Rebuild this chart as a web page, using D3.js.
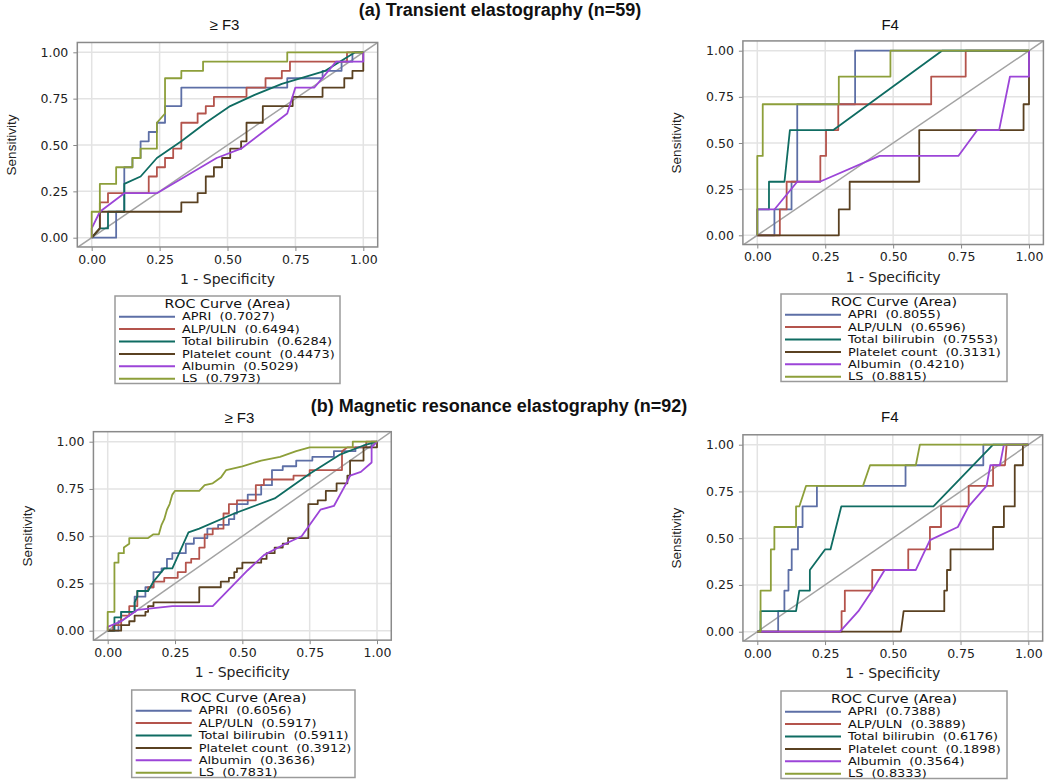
<!DOCTYPE html>
<html><head><meta charset="utf-8">
<script src="https://cdn.jsdelivr.net/npm/d3@7"></script>
<style>
html,body{margin:0;padding:0;background:#fff;}
svg text{white-space:pre;}
</style>
</head><body>
<svg id="chart" width="1050" height="781"></svg>
<script>
// ---------------- DATA ----------------
const markers = ["APRI", "ALP/ULN", "Total bilirubin", "Platelet count", "Albumin", "LS"];
const tickValues = [0, 0.25, 0.5, 0.75, 1];
const tickLabels = ["0.00", "0.25", "0.50", "0.75", "1.00"];
const sectionTitles = ["(a) Transient elastography (n=59)", "(b) Magnetic resonance elastography (n=92)"];
const panelTitles = ["\u2265 F3", "F4", "\u2265 F3", "F4"];

const areasTE_F3  = [0.7027, 0.6494, 0.6284, 0.4473, 0.5029, 0.7973];
const areasTE_F4  = [0.8055, 0.6596, 0.7553, 0.3131, 0.4210, 0.8815];
const areasMRE_F3 = [0.6056, 0.5917, 0.5911, 0.3912, 0.3636, 0.7831];
const areasMRE_F4 = [0.7388, 0.3889, 0.6176, 0.1898, 0.3564, 0.8333];

// (a) TE, >= F3  — points are [1 - specificity, sensitivity]
const teF3_APRI = [[0,0],[0.09,0],[0.09,0.14],[0.12,0.14],[0.12,0.38],[0.15,0.38],[0.15,0.43],[0.18,0.43],[0.18,0.52],[0.21,0.52],[0.21,0.57],[0.24,0.57],[0.24,0.62],[0.27,0.62],[0.27,0.71],[0.33,0.71],[0.33,0.81],[0.72,0.81],[0.72,0.86],[0.85,0.86],[0.85,0.90],[0.92,0.90],[0.92,0.95],[0.96,0.95],[0.96,1],[1,1]];
const teF3_ALP = [[0,0],[0.03,0.05],[0.03,0.19],[0.06,0.19],[0.06,0.24],[0.21,0.24],[0.21,0.33],[0.24,0.33],[0.24,0.38],[0.27,0.38],[0.27,0.43],[0.30,0.43],[0.30,0.48],[0.33,0.48],[0.33,0.62],[0.39,0.62],[0.39,0.67],[0.42,0.67],[0.42,0.71],[0.45,0.71],[0.45,0.76],[0.57,0.76],[0.57,0.81],[0.64,0.81],[0.64,0.86],[0.70,0.86],[0.70,0.90],[0.73,0.90],[0.73,0.95],[0.94,0.95],[0.94,1],[1,1]];
const teF3_TB = [[0,0],[0.03,0.05],[0.06,0.05],[0.06,0.14],[0.12,0.14],[0.12,0.29],[0.18,0.33],[0.24,0.43],[0.33,0.52],[0.42,0.62],[0.51,0.71],[0.60,0.77],[0.70,0.83],[0.86,0.90],[0.97,1],[1,1]];
const teF3_PLT = [[0,0],[0.03,0.05],[0.03,0.14],[0.33,0.14],[0.33,0.19],[0.39,0.19],[0.39,0.24],[0.42,0.24],[0.42,0.33],[0.45,0.33],[0.45,0.38],[0.48,0.38],[0.48,0.43],[0.51,0.43],[0.51,0.48],[0.55,0.48],[0.55,0.52],[0.57,0.52],[0.57,0.62],[0.63,0.62],[0.63,0.71],[0.74,0.71],[0.74,0.76],[0.85,0.76],[0.85,0.81],[0.93,0.81],[0.93,0.86],[0.96,0.86],[0.96,0.90],[1,0.90],[1,1]];
const teF3_ALB = [[0,0],[0,0.05],[0.03,0.14],[0.12,0.24],[0.24,0.24],[0.46,0.43],[0.55,0.48],[0.72,0.67],[0.75,0.81],[0.82,0.81],[0.90,0.95],[1,0.95],[1,1]];
const teF3_LS = [[0,0],[0,0.14],[0.03,0.14],[0.03,0.29],[0.09,0.29],[0.09,0.38],[0.15,0.38],[0.15,0.43],[0.18,0.43],[0.18,0.48],[0.24,0.48],[0.24,0.62],[0.27,0.67],[0.27,0.86],[0.33,0.86],[0.33,0.90],[0.41,0.90],[0.41,0.95],[0.72,0.95],[0.72,1],[1,1]];

// (a) TE, F4
const teF4_APRI = [[0,0],[0.063,0],[0.063,0.14],[0.126,0.14],[0.126,0.29],[0.147,0.29],[0.147,0.71],[0.36,0.71],[0.36,1],[1,1]];
const teF4_ALP = [[0,0],[0.083,0],[0.083,0.14],[0.108,0.14],[0.108,0.29],[0.232,0.29],[0.232,0.43],[0.253,0.43],[0.253,0.57],[0.298,0.57],[0.298,0.71],[0.64,0.71],[0.64,0.86],[0.767,0.86],[0.767,1],[1,1]];
const teF4_TB = [[0,0],[0,0.14],[0.043,0.14],[0.043,0.29],[0.10,0.29],[0.12,0.57],[0.28,0.57],[0.55,0.86],[0.68,1],[1,1]];
const teF4_PLT = [[0,0],[0.30,0],[0.30,0.14],[0.34,0.14],[0.34,0.29],[0.596,0.29],[0.596,0.57],[0.98,0.57],[0.98,0.71],[1,0.71],[1,0.86],[1,1]];
const teF4_ALB = [[0,0],[0,0.14],[0.063,0.14],[0.147,0.29],[0.23,0.29],[0.45,0.43],[0.74,0.43],[0.81,0.57],[0.89,0.57],[0.93,0.86],[1,0.86],[1,1]];
const teF4_LS = [[0,0],[0,0.43],[0.02,0.43],[0.02,0.71],[0.30,0.71],[0.30,0.86],[0.49,0.86],[0.49,1],[1,1]];

// (b) MRE, >= F3
const mreF3_APRI = [[0,0],[0.04,0],[0.04,0.05],[0.05,0.05],[0.05,0.10],[0.10,0.10],[0.10,0.18],[0.14,0.18],[0.14,0.23],[0.17,0.23],[0.17,0.31],[0.20,0.31],[0.20,0.33],[0.22,0.33],[0.22,0.38],[0.24,0.38],[0.24,0.41],[0.29,0.41],[0.29,0.46],[0.32,0.46],[0.32,0.49],[0.37,0.49],[0.37,0.54],[0.41,0.54],[0.41,0.56],[0.45,0.56],[0.45,0.59],[0.47,0.59],[0.47,0.62],[0.48,0.62],[0.48,0.67],[0.52,0.67],[0.52,0.72],[0.57,0.72],[0.57,0.77],[0.61,0.77],[0.61,0.85],[0.65,0.85],[0.65,0.87],[0.70,0.87],[0.70,0.90],[0.76,0.90],[0.76,0.92],[0.84,0.92],[0.84,0.95],[0.92,0.95],[0.92,0.97],[0.98,0.97],[0.98,1],[1,1]];
const mreF3_ALP = [[0,0],[0.02,0],[0.02,0.03],[0.05,0.03],[0.05,0.08],[0.08,0.08],[0.08,0.13],[0.11,0.13],[0.11,0.21],[0.15,0.21],[0.15,0.23],[0.17,0.23],[0.17,0.26],[0.21,0.26],[0.21,0.28],[0.26,0.28],[0.26,0.31],[0.29,0.31],[0.29,0.36],[0.31,0.36],[0.31,0.38],[0.34,0.38],[0.34,0.44],[0.36,0.44],[0.36,0.51],[0.39,0.51],[0.39,0.54],[0.43,0.54],[0.43,0.62],[0.45,0.62],[0.45,0.67],[0.48,0.67],[0.48,0.69],[0.55,0.69],[0.55,0.77],[0.58,0.77],[0.58,0.80],[0.69,0.80],[0.69,0.82],[0.75,0.82],[0.75,0.85],[0.87,0.85],[0.87,0.95],[0.89,0.97],[0.96,0.97],[0.96,1],[1,1]];
const mreF3_TB = [[0,0],[0.025,0],[0.025,0.07],[0.05,0.07],[0.05,0.10],[0.10,0.10],[0.10,0.15],[0.11,0.18],[0.11,0.21],[0.15,0.21],[0.17,0.26],[0.21,0.33],[0.24,0.33],[0.30,0.52],[0.34,0.54],[0.47,0.62],[0.62,0.70],[0.75,0.83],[0.86,0.93],[0.95,0.98],[1,1]];
const mreF3_PLT = [[0,0],[0.05,0],[0.05,0.03],[0.08,0.03],[0.08,0.05],[0.10,0.05],[0.10,0.08],[0.14,0.08],[0.14,0.10],[0.15,0.10],[0.15,0.13],[0.17,0.13],[0.17,0.15],[0.34,0.15],[0.34,0.23],[0.42,0.23],[0.42,0.26],[0.45,0.26],[0.45,0.28],[0.47,0.28],[0.47,0.31],[0.48,0.31],[0.48,0.33],[0.50,0.33],[0.50,0.36],[0.57,0.36],[0.57,0.38],[0.59,0.38],[0.59,0.41],[0.62,0.41],[0.62,0.44],[0.65,0.44],[0.65,0.46],[0.67,0.46],[0.67,0.49],[0.745,0.49],[0.745,0.67],[0.78,0.67],[0.78,0.69],[0.81,0.69],[0.81,0.74],[0.85,0.74],[0.85,0.78],[0.89,0.78],[0.89,0.82],[0.90,0.82],[0.90,0.90],[0.95,0.90],[0.95,0.97],[1,0.97],[1,1]];
const mreF3_ALB = [[0,0],[0,0.02],[0.05,0.05],[0.11,0.11],[0.24,0.13],[0.39,0.13],[0.52,0.32],[0.58,0.40],[0.66,0.46],[0.72,0.50],[0.79,0.64],[0.84,0.66],[0.89,0.79],[0.90,0.82],[0.94,0.84],[0.98,0.89],[0.98,0.97],[1,1]];
const mreF3_LS = [[0,0],[0,0.10],[0.025,0.10],[0.025,0.36],[0.04,0.36],[0.04,0.41],[0.06,0.41],[0.06,0.44],[0.08,0.46],[0.08,0.49],[0.15,0.49],[0.17,0.51],[0.19,0.51],[0.20,0.56],[0.21,0.59],[0.22,0.64],[0.23,0.67],[0.24,0.72],[0.25,0.74],[0.34,0.74],[0.36,0.77],[0.39,0.78],[0.42,0.81],[0.44,0.85],[0.50,0.87],[0.57,0.90],[0.64,0.92],[0.70,0.95],[0.75,0.97],[0.91,0.97],[0.91,1],[1,1]];

// (b) MRE, F4
const mreF4_APRI = [[0,0],[0.077,0],[0.077,0.11],[0.10,0.11],[0.10,0.22],[0.115,0.22],[0.115,0.33],[0.127,0.33],[0.127,0.44],[0.15,0.44],[0.15,0.56],[0.167,0.56],[0.167,0.67],[0.22,0.67],[0.22,0.78],[0.547,0.78],[0.547,0.89],[0.834,0.89],[0.834,1],[1,1]];
const mreF4_ALP = [[0,0],[0.311,0],[0.311,0.11],[0.323,0.11],[0.323,0.22],[0.424,0.22],[0.424,0.33],[0.557,0.33],[0.557,0.44],[0.637,0.44],[0.637,0.56],[0.678,0.56],[0.678,0.67],[0.78,0.67],[0.78,0.78],[0.87,0.78],[0.87,0.89],[0.914,0.89],[0.92,1],[1,1]];
const mreF4_TB = [[0,0],[0.012,0],[0.012,0.11],[0.143,0.11],[0.155,0.22],[0.194,0.22],[0.194,0.33],[0.25,0.44],[0.27,0.44],[0.31,0.67],[0.65,0.67],[0.87,1],[1,1]];
const mreF4_PLT = [[0,0],[0.53,0],[0.54,0.11],[0.69,0.11],[0.69,0.22],[0.70,0.22],[0.70,0.33],[0.713,0.33],[0.713,0.44],[0.87,0.44],[0.87,0.56],[0.91,0.56],[0.91,0.67],[0.95,0.67],[0.95,0.89],[0.98,0.89],[0.98,1],[1,1]];
const mreF4_ALB = [[0,0],[0.305,0],[0.373,0.11],[0.424,0.22],[0.47,0.33],[0.585,0.33],[0.637,0.49],[0.74,0.56],[0.78,0.67],[0.846,0.78],[0.86,0.89],[0.895,0.89],[0.91,1],[1,1]];
const mreF4_LS = [[0,0],[0.012,0],[0.012,0.22],[0.05,0.22],[0.05,0.44],[0.063,0.44],[0.063,0.56],[0.143,0.56],[0.143,0.67],[0.155,0.67],[0.18,0.78],[0.39,0.78],[0.416,0.89],[0.585,0.89],[0.60,1],[1,1]];

// ---------------- STYLE / LAYOUT ----------------
const colors = ["#5d6fa6", "#b4544c", "#0f6c62", "#5a4121", "#9c45d8", "#8d9f3a"];

const panels = [
  {title: panelTitles[0], curves: [teF3_APRI, teF3_ALP, teF3_TB, teF3_PLT, teF3_ALB, teF3_LS], areas: areasTE_F3,
   x0: 91.7, x1: 363.3, y0: 237.7, y1: 52.3, titleY: 30, legend: {left: 115, right: 340, top: 296}},
  {title: panelTitles[1], curves: [teF4_APRI, teF4_ALP, teF4_TB, teF4_PLT, teF4_ALB, teF4_LS], areas: areasTE_F4,
   x0: 757.3, x1: 1029, y0: 235.3, y1: 50.7, titleY: 30, legend: {left: 781, right: 1007, top: 294}},
  {title: panelTitles[2], curves: [mreF3_APRI, mreF3_ALP, mreF3_TB, mreF3_PLT, mreF3_ALB, mreF3_LS], areas: areasMRE_F3,
   x0: 107.7, x1: 377, y0: 630.7, y1: 441.7, titleY: 422.5, legend: {left: 131.7, right: 355, top: 690}},
  {title: panelTitles[3], curves: [mreF4_APRI, mreF4_ALP, mreF4_TB, mreF4_PLT, mreF4_ALB, mreF4_LS], areas: areasMRE_F4,
   x0: 757.3, x1: 1028.3, y0: 631.7, y1: 444.7, titleY: 422, legend: {left: 781, right: 1007, top: 691}}
];

const svg = d3.select("#chart");
const HFONT = "'DejaVu Sans', Verdana, sans-serif";
const AFONT = "'Liberation Sans', Arial, sans-serif";
const STRETCH = 1.23;

// Section titles
svg.append("text").attr("x", 500).attr("y", 16).attr("text-anchor", "middle")
  .style("font-family", AFONT).style("font-weight", "bold").style("font-size", "18px").attr("fill", "#111")
  .text(sectionTitles[0]);
svg.append("text").attr("x", 499).attr("y", 412).attr("text-anchor", "middle")
  .style("font-family", AFONT).style("font-weight", "bold").style("font-size", "18px").attr("fill", "#111")
  .text(sectionTitles[1]);

panels.forEach((p, pi) => {
  const xs = d3.scaleLinear().domain([0, 1]).range([p.x0, p.x1]);
  const ys = d3.scaleLinear().domain([0, 1]).range([p.y0, p.y1]);
  const fl = xs(-0.053), fr = xs(1.053), ft = ys(1.053), fb = ys(-0.05);
  const g = svg.append("g");

  const clipId = "clip" + pi;
  svg.append("clipPath").attr("id", clipId).append("rect")
    .attr("x", fl).attr("y", ft).attr("width", fr - fl).attr("height", fb - ft);

  // grid
  g.append("g").selectAll("line").data(tickValues).join("line")
    .attr("x1", d => xs(d)).attr("x2", d => xs(d)).attr("y1", ft).attr("y2", fb)
    .attr("stroke", "#e3e3e3").attr("stroke-width", 1.5);
  g.append("g").selectAll("line").data(tickValues).join("line")
    .attr("y1", d => ys(d)).attr("y2", d => ys(d)).attr("x1", fl).attr("x2", fr)
    .attr("stroke", "#e3e3e3").attr("stroke-width", 1.5);

  // axes (ticks + labels) via d3 axes
  const xAxis = d3.axisBottom(xs).tickValues(tickValues).tickFormat((d, i) => tickLabels[i]).tickSize(4).tickPadding(4);
  const ax = g.append("g").attr("transform", `translate(0,${fb})`).call(xAxis);
  ax.select(".domain").remove();
  ax.selectAll(".tick line").attr("stroke", "#888");
  ax.selectAll("text").style("font-family", HFONT).style("font-size", "12.5px").attr("fill", "#222");

  const yAxis = d3.axisLeft(ys).tickValues(tickValues).tickFormat((d, i) => tickLabels[i]).tickSize(4).tickPadding(5);
  const ay = g.append("g").attr("transform", `translate(${fl},0)`).call(yAxis);
  ay.select(".domain").remove();
  ay.selectAll(".tick line").attr("stroke", "#888");
  ay.selectAll("text").style("font-family", HFONT).style("font-size", "12.5px").attr("fill", "#222");

  // diagonal reference
  g.append("line").attr("clip-path", `url(#${clipId})`)
    .attr("x1", xs(-0.1)).attr("y1", ys(-0.1)).attr("x2", xs(1.1)).attr("y2", ys(1.1))
    .attr("stroke", "#a3a3a3").attr("stroke-width", 1.5);

  // curves
  const line = d3.line().x(d => xs(d[0])).y(d => ys(d[1]));
  g.append("g").attr("clip-path", `url(#${clipId})`)
    .selectAll("path").data(p.curves).join("path")
    .attr("d", line).attr("fill", "none")
    .attr("stroke", (d, i) => colors[i]).attr("stroke-width", 1.8).attr("stroke-linejoin", "round");

  // frame
  g.append("rect").attr("x", fl).attr("y", ft).attr("width", fr - fl).attr("height", fb - ft)
    .attr("fill", "none").attr("stroke", "#8a8a8a").attr("stroke-width", 1.5);

  // panel title
  const cx = (p.x0 + p.x1) / 2;
  g.append("text").attr("x", cx - 3).attr("y", p.titleY).attr("text-anchor", "middle")
    .style("font-family", AFONT).style("font-size", "15px").attr("fill", "#111").text(p.title);

  // axis labels
  g.append("text").attr("x", cx).attr("y", fb + 37).attr("text-anchor", "middle")
    .style("font-family", HFONT).style("font-size", "14px").attr("fill", "#222").text("1 - Specificity");
  const cy = (p.y0 + p.y1) / 2;
  g.append("text").attr("transform", `translate(${p.x0 - 76},${cy}) rotate(-90)`).attr("text-anchor", "middle")
    .style("font-family", AFONT).style("font-size", "13.5px").attr("fill", "#222").text("Sensitivity");

  // legend
  const L = p.legend;
  const lg = g.append("g");
  lg.append("rect").attr("x", L.left).attr("y", L.top).attr("width", L.right - L.left).attr("height", 87.5)
    .attr("fill", "#fff").attr("stroke", "#9a9a9a").attr("stroke-width", 1.5);
  lg.append("text").attr("transform", `translate(${(L.left + L.right) / 2},${L.top + 12}) scale(${STRETCH},1)`)
    .attr("text-anchor", "middle")
    .style("font-family", HFONT).style("font-size", "11.6px").attr("fill", "#111").text("ROC Curve (Area)");
  const rows = lg.selectAll("g.row").data(markers).join("g").attr("class", "row")
    .attr("transform", (d, i) => `translate(0,${L.top + 20.7 + i * 12.4})`);
  rows.append("line").attr("x1", L.left + 4).attr("x2", L.left + 60)
    .attr("stroke", (d, i) => colors[i]).attr("stroke-width", 2);
  rows.append("text").attr("transform", `translate(${L.left + 67},0) scale(${STRETCH},1)`)
    .attr("dy", "0.36em")
    .style("font-family", HFONT).style("font-size", "10.5px").attr("fill", "#111")
    .text((d, i) => `${d}  (${p.areas[i].toFixed(4)})`);
});
</script>
</body></html>
